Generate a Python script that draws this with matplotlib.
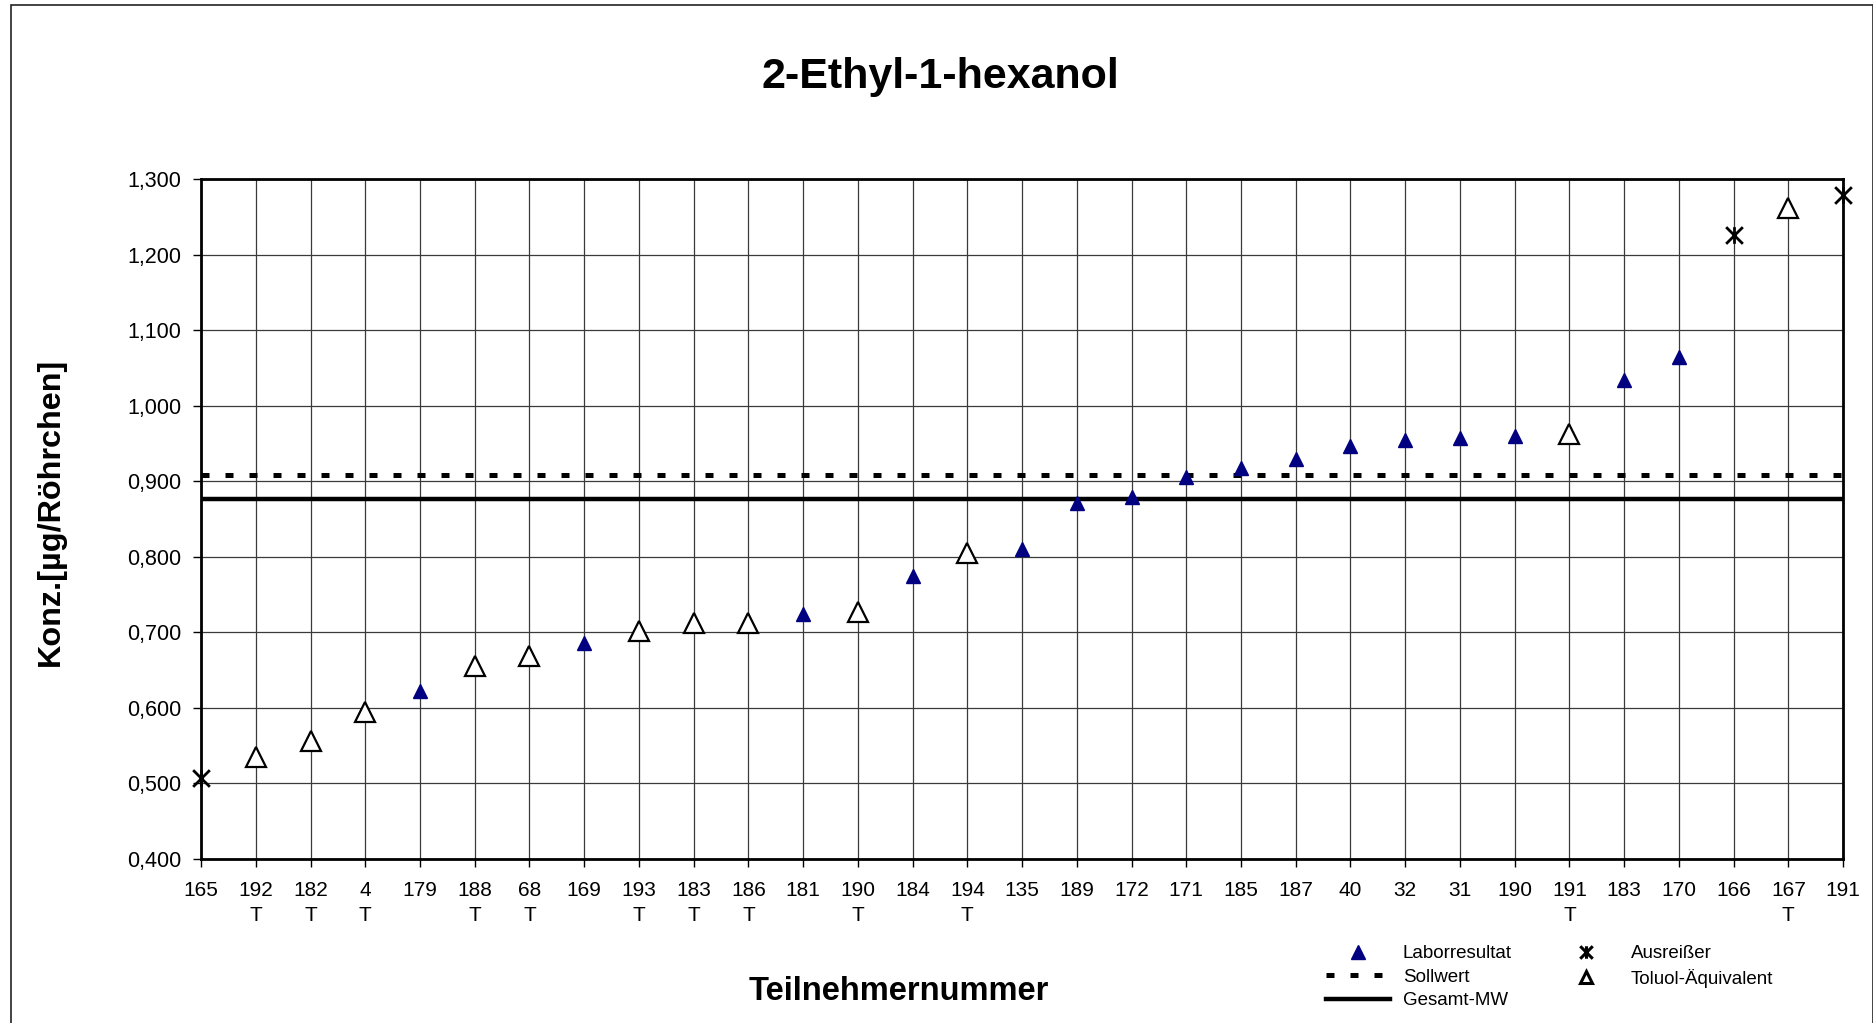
import matplotlib
matplotlib.use('Agg')
import matplotlib.pyplot as plt
from matplotlib.path import Path
from matplotlib.lines import Line2D
from matplotlib.patches import Rectangle
plt.rcParams['font.family'] = ['Liberation Sans', 'DejaVu Sans']

# Teilnehmer, Art des Ergebnisses (L = Laborresultat, T = Toluol-Äquivalent, A = Ausreißer)
teilnehmer = ['165', '192', '182', '4', '179', '188', '68', '169', '193', '183', '186',
              '181', '190', '184', '194', '135', '189', '172', '171', '185', '187', '40',
              '32', '31', '190', '191', '183', '170', '166', '167', '191']
art = ['A', 'T', 'T', 'T', 'L', 'T', 'T', 'L', 'T', 'T', 'T',
       'L', 'T', 'L', 'T', 'L', 'L', 'L', 'L', 'L', 'L', 'L',
       'L', 'L', 'L', 'T', 'L', 'L', 'A', 'T', 'A']
konz = [0.507, 0.535, 0.556, 0.595, 0.623, 0.655, 0.669, 0.686, 0.702, 0.712, 0.713,
        0.724, 0.727, 0.775, 0.805, 0.810, 0.871, 0.879, 0.906, 0.917, 0.930, 0.947,
        0.954, 0.957, 0.960, 0.963, 1.034, 1.064, 1.226, 1.262, 1.279]
sollwert = 0.908
gesamt_mw = 0.877
yticks = [0.4, 0.5, 0.6, 0.7, 0.8, 0.9, 1.0, 1.1, 1.2, 1.3]

# Stern-Marker wie in Excel (x mit senkrechtem Strich)
stern = Path([(-1, -1), (1, 1), (-1, 1), (1, -1), (0, -1), (0, 1)],
             [Path.MOVETO, Path.LINETO, Path.MOVETO, Path.LINETO, Path.MOVETO, Path.LINETO])

fig = plt.figure(figsize=(18.74, 10.23), dpi=100)
ax = fig.add_axes([0.1073, 0.1603, 0.8762, 0.6647])

x = list(range(len(teilnehmer)))
xl = [i for i in x if art[i] == 'L']
xt = [i for i in x if art[i] == 'T']
xa = [i for i in x if art[i] == 'A']

ax.axhline(sollwert, color='black', lw=3.6, dashes=(1.6, 3.2), dash_capstyle='butt', zorder=3)
ax.axhline(gesamt_mw, color='black', lw=3.2, zorder=3)
ax.plot(xl, [konz[i] for i in xl], ls='none', marker='^', ms=10, color='#000080',
        markeredgecolor='#000080', zorder=4, clip_on=False)
ax.plot(xt, [konz[i] for i in xt], ls='none', marker='^', ms=15, markerfacecolor='white',
        markeredgecolor='black', mew=1.6, zorder=4, clip_on=False)
ax.plot(xa, [konz[i] for i in xa], ls='none', marker=stern, ms=12, color='black',
        mew=2, zorder=4, clip_on=False)

ax.set_xlim(0, len(teilnehmer) - 1)
ax.set_ylim(0.4, 1.3)
ax.set_xticks(x)
ax.set_xticklabels([t + ('\nT' if a == 'T' else '') for t, a in zip(teilnehmer, art)],
                   fontsize=15, linespacing=1.4)
ax.set_yticks(yticks)
ax.set_yticklabels([f"{v:.3f}".replace('.', ',') for v in yticks], fontsize=15.5)
ax.tick_params(direction='out', length=6, width=1, color='black')
ax.tick_params(axis='x', pad=10)
ax.tick_params(axis='y', pad=8)
ax.grid(True, color='#3a3a3a', lw=0.9)
ax.set_axisbelow(True)
for s in ax.spines.values():
    s.set_linewidth(2)

fig.text(0.502, 0.9247, '2-Ethyl-1-hexanol', ha='center', va='center', fontsize=31, fontweight='bold')
fig.text(0.4797, 0.031, 'Teilnehmernummer', ha='center', va='center', fontsize=23.5, fontweight='bold')
fig.text(0.027, 0.4995, 'Konz.[µg/Röhrchen]', ha='center', va='center', rotation=90,
         fontsize=23.3, fontweight='bold')

handles = [
    Line2D([], [], ls='none', marker='^', ms=10, color='#000080'),
    Line2D([], [], color='black', lw=3.6, dashes=(1.6, 3.2), dash_capstyle='butt'),
    Line2D([], [], color='black', lw=3.2),
    Line2D([], [], ls='none', marker=stern, ms=9, color='black', mew=2.2),
    Line2D([], [], ls='none', marker='^', ms=9, markerfacecolor='white', markeredgecolor='black', mew=2.2),
]
labels = ['Laborresultat', 'Sollwert', 'Gesamt-MW', 'Ausreißer', 'Toluol-Äquivalent']
fig.legend(handles, labels, ncol=2, loc='upper left', bbox_to_anchor=(1326 / 1874, 1 - 945 / 1023),
           frameon=False, fontsize=13.5, handlelength=3.4, handletextpad=0.7, columnspacing=2.25,
           labelspacing=0.34, borderpad=0, borderaxespad=0)

fig.patches.append(Rectangle((11 / 1874, -0.02), 1862 / 1874, 1.02 - 5 / 1023, transform=fig.transFigure,
                             fill=False, edgecolor='#222222', lw=1.2))

fig.savefig('out.png', dpi=100)
